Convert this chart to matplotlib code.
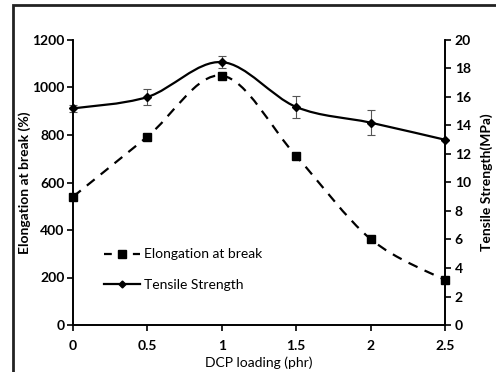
import numpy as np
import matplotlib
matplotlib.use('Agg')
import matplotlib.pyplot as plt
from matplotlib.path import Path
from matplotlib.patches import PathPatch, Rectangle
from matplotlib.lines import Line2D

plt.rcParams['font.family'] = ['Lato', 'DejaVu Sans']

# data
dcp = [0, 0.5, 1, 1.5, 2, 2.5]
elongation = [540, 793, 1050, 711, 362, 189]
tensile = [15.2, 16.0, 18.45, 15.3, 14.2, 13.0]
tensile_err = [0.25, 0.57, 0.42, 0.8, 0.9, 0.0]


def smooth_path(x, y):
	# Excel-style smoothed line as cubic bezier segments
	pts = np.column_stack([x, y]).astype(float)
	n = len(pts)
	verts = [pts[0]]
	codes = [Path.MOVETO]
	for i in range(n - 1):
		p0 = pts[max(i - 1, 0)]
		p1 = pts[i]
		p2 = pts[i + 1]
		p3 = pts[min(i + 2, n - 1)]
		c1 = p1 + (p2 - p0) / 6.0
		c2 = p2 - (p3 - p1) / 6.0
		verts += [c1, c2, p2]
		codes += [Path.CURVE4] * 3
	return Path(verts, codes)


fig = plt.figure(figsize=(4.96, 3.72), dpi=100)
fig.patches.append(Rectangle((13 / 496, -0.05), 1.1, 1 - 5 / 372 + 0.05,
	transform=fig.transFigure, fill=False, lw=2, ec='#222222'))

ax = fig.add_axes([73 / 496, 1 - 325 / 372, 372 / 496, 285 / 372])
ax2 = ax.twinx()

# elongation (left)
ax.add_patch(PathPatch(smooth_path(dcp, elongation), fill=False, lw=1.6,
	ls=(0, (4.5, 3.5)), ec='black', clip_on=False))
ax.plot(dcp, elongation, ls='none', marker='s', ms=6, color='black', clip_on=False)

# tensile (right)
ax2.add_patch(PathPatch(smooth_path(dcp, tensile), fill=False, lw=1.6,
	ec='black', clip_on=False))
ax2.errorbar(dcp, tensile, yerr=tensile_err, fmt='D', ms=4, color='black',
	ecolor='#555555', elinewidth=0.8, capsize=3, capthick=0.8, clip_on=False)

ax.set_xlim(0, 2.5)
ax.set_ylim(0, 1200)
ax2.set_ylim(0, 20)
ax.set_xticks([0, 0.5, 1, 1.5, 2, 2.5])
ax.set_xticklabels(['0', '0.5', '1', '1.5', '2', '2.5'])
ax.set_yticks(range(0, 1201, 200))
ax2.set_yticks(range(0, 21, 2))

for a in (ax, ax2):
	a.spines['top'].set_visible(False)
	for s in a.spines.values():
		s.set_linewidth(1.2)
ax.tick_params(axis='y', direction='out', length=4, width=1.2, labelsize=10, pad=2)
ax.tick_params(axis='x', direction='out', length=4, width=1.2, labelsize=10, pad=7)
ax2.tick_params(axis='y', direction='out', length=4, width=1.2, labelsize=10, pad=3)
for lab in ax.get_xticklabels() + ax.get_yticklabels() + ax2.get_yticklabels():
	lab.set_fontweight('bold')

ax.set_xlabel('DCP loading (phr)', fontsize=10, labelpad=3)
ax.set_ylabel('Elongation at break (%)', fontsize=10, fontweight='bold', labelpad=1)
ax2.set_ylabel('Tensile Strength(MPa)', fontsize=10, fontweight='bold', labelpad=7)

handles = [
	Line2D([], [], color='black', lw=1.6, dashes=(3.5, 3), marker='s', ms=6),
	Line2D([], [], color='black', lw=1.6, marker='D', ms=3.5),
]
ax.legend(handles, ['Elongation at break', 'Tensile Strength'], loc='lower left',
	bbox_to_anchor=(0.05, 0.075), frameon=False, fontsize=10, handlelength=2.6,
	handletextpad=0.3, labelspacing=1.35)

fig.savefig('out.png', dpi=100)
